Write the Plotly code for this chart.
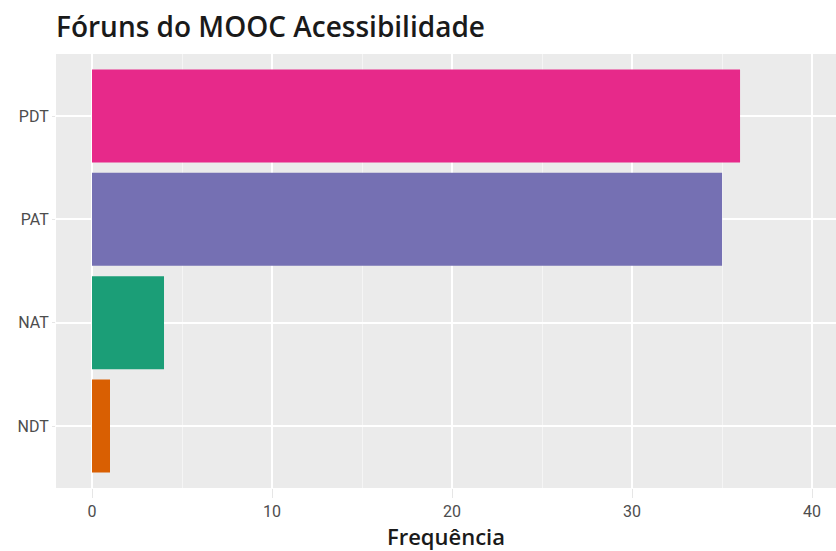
import plotly.graph_objects as go

categories = ["NDT", "NAT", "PAT", "PDT"]
values = [1, 4, 35, 36]
colors = ["#D95F02", "#1B9E77", "#7570B3", "#E7298A"]
x_ticks = [0, 10, 20, 30, 40]

fig = go.Figure(go.Bar(
    x=values, y=categories, orientation="h",
    marker=dict(color=colors, line=dict(width=0)),
    width=0.9,
))

tick_font = "Roboto, 'DejaVu Sans', sans-serif"
title_font = "'Open Sans', 'DejaVu Sans', sans-serif"
fig.update_layout(
    width=836, height=551,
    margin=dict(l=56, r=0, t=54, b=63),
    paper_bgcolor="white",
    plot_bgcolor="#EBEBEB",
    showlegend=False,
    bargap=0.1,
    title=dict(text="Fóruns do MOOC Acessibilidade", x=0.067, xanchor="left",
               y=0.951, yanchor="middle",
               font=dict(family=title_font, size=28, weight=600, color="#1a1a1a")),
    xaxis=dict(
        range=[-2, 41.33], tickvals=x_ticks, ticktext=[str(v) for v in x_ticks],
        automargin=False,
        showgrid=True, gridcolor="white", gridwidth=1.8,
        minor=dict(dtick=5, tick0=5, showgrid=True, gridcolor="#F5F5F5", gridwidth=0.8),
        zeroline=False, showline=False,
        ticks="outside", ticklen=9, tickcolor="#E6E6E6",
        tickfont=dict(family=tick_font, size=16, color="#4D4D4D"),
        title=dict(text="Frequência", standoff=0,
                   font=dict(family=title_font, size=22, weight=600, color="#1a1a1a")),
    ),
    yaxis=dict(
        categoryorder="array", categoryarray=categories,
        range=[-0.6, 3.6], automargin=False,
        showgrid=True, gridcolor="white", gridwidth=1.8,
        zeroline=False, showline=False,
        ticks="outside", ticklen=3, tickcolor="#E6E6E6",
        tickfont=dict(family=tick_font, size=16, color="#4D4D4D"),
    ),
)
fig.write_html(
    "out.html",
    config={"displayModeBar": False},
    post_script="document.body.style.margin='0';document.body.style.overflow='hidden';",
)
